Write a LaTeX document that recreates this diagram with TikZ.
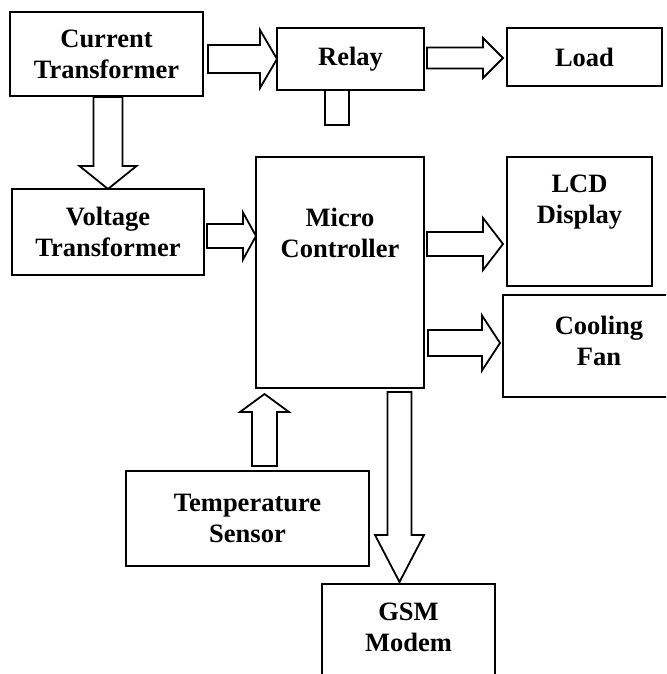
\documentclass[tikz,border=0pt]{standalone}
\usepackage{fontspec}
\setmainfont{Liberation Serif}
\usetikzlibrary{calc,positioning}

\begin{document}
\begin{tikzpicture}[
  x=1pt, y=-1pt,
  font=\fontsize{26.5}{31}\selectfont\bfseries,
  blk/.style={draw, line width=2pt, inner sep=0pt, outer sep=0pt, align=center},
  txt/.style={align=center, inner sep=0pt, anchor=north},
  arr/.style={draw, line width=1.8pt, fill=white, line join=miter},
  barrow/.style n args={3}{to path={
    ($(\tikztotarget)!#3!(\tikztostart)$) coordinate (bbase)
    ($(\tikztostart)!#1!90:(\tikztotarget)$)
    -- ($(bbase)!#1!90:(\tikztotarget)$)
    -- ($(bbase)!#2!90:(\tikztotarget)$)
    -- (\tikztotarget)
    -- ($(bbase)!#2!-90:(\tikztotarget)$)
    -- ($(bbase)!#1!-90:(\tikztotarget)$)
    -- ($(\tikztostart)!#1!-90:(\tikztotarget)$)
    -- cycle}},
]
\path[use as bounding box, clip] (0,0) rectangle (666,674);
% top row
\node[blk, minimum width=193pt, minimum height=84pt] (ct) at (106.5,54) {Current\\Transformer};
\node[blk, minimum width=147pt, minimum height=62pt] (relay) at (350.5,59) {Relay};
\node[blk, minimum width=155pt, minimum height=58pt] (load) at (584.5,57) {Load};
\node[blk, minimum width=24pt, minimum height=35pt, anchor=north] (stub) at ($(relay.south)+(-13.5,0)$) {};
% middle row
\node[blk, minimum width=192pt, minimum height=86pt] (vt) at (108,232) {Voltage\\Transformer};
\node[blk, minimum width=168pt, minimum height=231pt,
  label={[txt, yshift=-51pt]north:{Micro\\Controller}}] (mc) at (340,272.5) {};
\node[blk, minimum width=145pt, minimum height=129pt,
  label={[txt, yshift=-18pt]north:{LCD\\Display}}] (lcd) at (579.5,221.5) {};
\node[blk, minimum width=192pt, minimum height=102pt,
  label={[txt, yshift=-21pt]north:{Cooling\\Fan}}] (fan) at (599,346) {};
% bottom row
\node[blk, minimum width=243pt, minimum height=95pt] (temp) at (247.5,518.5) {Temperature\\Sensor};
\node[blk, minimum width=173pt, minimum height=120pt,
  label={[txt, yshift=-19pt]north:{GSM\\Modem}}] (gsm) at (408.5,644) {};
% block arrows
\draw[arr] ($(ct.east |- relay.west)+(5,0)$) to[barrow={14pt}{29pt}{17pt}] (relay.west);
\draw[arr] ($(relay.east)+(3,-1)$) to[barrow={10.5pt}{20pt}{20pt}] ($(load.west)+(-4,1)$);
\draw[arr] ($(ct.south -| vt.north)+(0,1)$) to[barrow={14.5pt}{28.5pt}{23pt}] (vt.north);
\draw[arr] ($(vt.east)+(3,4)$) to[barrow={12pt}{23.5pt}{13pt}] ($(mc.west |- vt.east)+(0,4)$);
\draw[arr] ($(mc.east)+(3,-28.5)$) to[barrow={12pt}{26pt}{20pt}] ($(lcd.west)+(-4,22.5)$);
\draw[arr] ($(mc.east |- fan.west)+(4,-3)$) to[barrow={13pt}{27.5pt}{18pt}] ($(fan.west)+(-3,-3)$);
\draw[arr] ($(temp.north)+(17,-5)$) to[barrow={12.5pt}{24.5pt}{18pt}] ($(mc.south -| temp.north)+(17,6)$);
\draw[arr] ($(mc.south)+(59.5,4)$) to[barrow={12pt}{24.5pt}{47pt}] ($(gsm.north)+(-9,-2)$);
\end{tikzpicture}
\end{document}
